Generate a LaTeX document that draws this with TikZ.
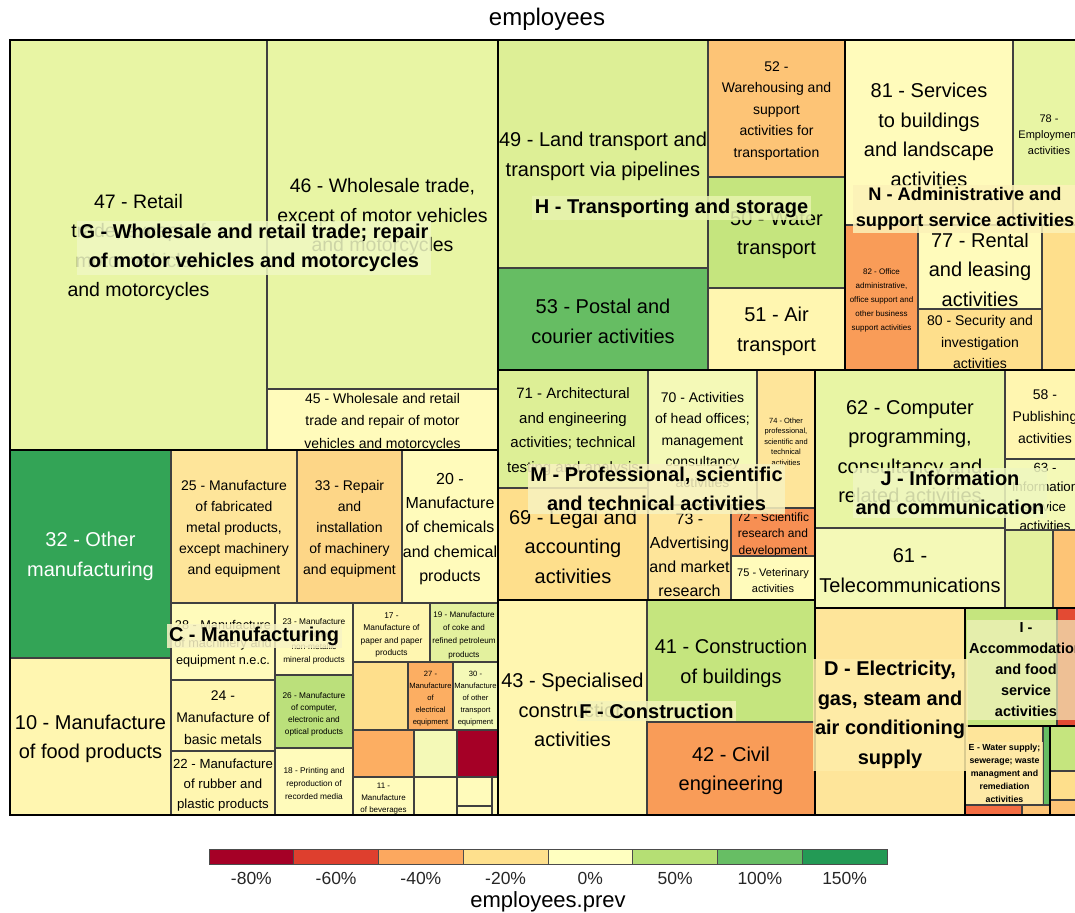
\documentclass[tikz,border=0pt]{standalone}
\usepackage{fontspec}
\setmainfont{Liberation Sans}
\def\borderlist{}
\newcommand\tmleaf[8]{%
  \fill[fill=#6] (#2,#3) rectangle (#4,#5);
  \begin{scope}
    \clip (#2,#3) rectangle (#4,#5);
    \node[lt,#7] (#1) at ({(#2+#4)/2},{(#3+#5)/2}) {#8};
  \end{scope}
  \xdef\borderlist{\borderlist (#2,#3) rectangle (#4,#5)}%
}
% cell colours
\definecolor{gA}{HTML}{E8F5A4}
\definecolor{gA2}{HTML}{E3F19E}
\definecolor{gB}{HTML}{DDEF96}
\definecolor{gC}{HTML}{C5E57E}
\definecolor{gC2}{HTML}{BBE07B}
\definecolor{gD}{HTML}{66BD63}
\definecolor{gE}{HTML}{33A456}
\definecolor{yA}{HTML}{FFFBBB}
\definecolor{yB}{HTML}{FFF6B0}
\definecolor{yG}{HTML}{F4F9B7}
\definecolor{oA}{HTML}{FEE59A}
\definecolor{oB}{HTML}{FEDF8C}
\definecolor{oC}{HTML}{FDD687}
\definecolor{oD}{HTML}{FDC476}
\definecolor{oE}{HTML}{FCAE62}
\definecolor{oF}{HTML}{F99C58}
\definecolor{oF2}{HTML}{F78F53}
\definecolor{rA}{HTML}{E34A33}
\definecolor{rA2}{HTML}{F46D43}
\definecolor{rB}{HTML}{A50026}
% group label backgrounds
\definecolor{bgG}{HTML}{EFF8C2}
\definecolor{bgH}{HTML}{E7F3AE}
\definecolor{bgN}{HTML}{FCF2B8}
\definecolor{bgM}{HTML}{F8F2C0}
\definecolor{bgJ}{HTML}{EFF7C0}
\definecolor{bgF}{HTML}{F4F3BA}
\definecolor{bgC}{HTML}{F8F3C4}
\definecolor{bgD}{HTML}{FEEDA8}
\definecolor{bgI}{HTML}{F3F3C0}
\definecolor{bgE}{HTML}{FEEAA8}
% legend colours
\definecolor{lg1}{HTML}{A50026}
\definecolor{lg2}{HTML}{DE3F2E}
\definecolor{lg3}{HTML}{FCA85F}
\definecolor{lg4}{HTML}{FEE08D}
\definecolor{lg5}{HTML}{FFFFC0}
\definecolor{lg6}{HTML}{B5DF74}
\definecolor{lg7}{HTML}{67BE64}
\definecolor{lg8}{HTML}{239A55}
\tikzset{
  lt/.style={align=center, inner sep=0pt, text=black, yshift=-2.5pt},
  fs/.style 2 args={font=\fontsize{#1}{#2}\selectfont},
  leafb/.style={draw=black!75, line width=1.1pt},
  grpb/.style={draw=black, line width=2.8pt, line join=miter},
  glab/.style={align=center, inner xsep=2.5pt, inner ysep=2.5pt, yshift=-2pt, font=\fontsize{20}{29.5}\selectfont\bfseries, fill opacity=0.86, text opacity=1},
  legbox/.style={draw=black!70, line width=0.8pt, minimum width=84.75pt, minimum height=15pt, inner sep=0pt},
  legtxt/.style={font=\fontsize{17.5}{20}\selectfont, text=black!85},
}
\begin{document}
\begin{tikzpicture}[x=1pt,y=-1pt]
\useasboundingbox (0,0) rectangle (1075,912);
\fill[white] (0,0) rectangle (1075,912);
\node[font=\fontsize{24}{28}\selectfont] (title) at (547,19) {employees};

% ---- G
\tmleaf{l47}{10}{40}{267}{450}{gA}{fs={19.5}{29.3}}{47 - Retail\\trade, except of\\motor vehicles\\and motorcycles}
\tmleaf{l46}{267}{40}{498}{389}{gA}{fs={19.5}{29.3}}{46 - Wholesale trade,\\except of motor vehicles\\and motorcycles}
\tmleaf{l45}{267}{389}{498}{450}{yA}{fs={14}{22.5}}{45 - Wholesale and retail\\trade and repair of motor\\vehicles and motorcycles}
% ---- H
\tmleaf{l49}{498}{40}{708}{268}{gB}{fs={20}{29.5}}{49 - Land transport and\\transport via pipelines}
\tmleaf{l52}{708}{40}{845}{177}{oD}{fs={14}{21.5}}{52 -\\Warehousing and\\support\\activities for\\transportation}
\tmleaf{l50}{708}{177}{845}{288}{gC}{fs={20}{29.5}}{50 - Water\\transport}
\tmleaf{l51}{708}{288}{845}{370}{yB}{fs={20}{29.5}}{51 - Air\\transport}
\tmleaf{l53}{498}{268}{708}{370}{gD}{fs={20}{29.5}}{53 - Postal and\\courier activities}
% ---- N
\tmleaf{l81}{845}{40}{1013}{225}{yA}{fs={20}{29.5}}{81 - Services\\to buildings\\and landscape\\activities}
\tmleaf{l78}{1013}{40}{1085}{225}{gA}{fs={11}{16}}{78 -\\Employment\\activities}
\tmleaf{l82}{845}{225}{918}{370}{oF}{fs={8}{14}}{82 - Office\\administrative,\\office support and\\other business\\support activities}
\tmleaf{l77}{918}{225}{1042}{309}{yA}{fs={20}{29.5}}{77 - Rental\\and leasing\\activities}
\tmleaf{l80}{918}{309}{1042}{370}{oB}{fs={14}{21.5}}{80 - Security and\\investigation\\activities}
\tmleaf{lN1}{1042}{225}{1085}{370}{oB}{}{}
% ---- M
\tmleaf{l71}{498}{370}{648}{488}{gB}{fs={15}{24.5}}{71 - Architectural\\and engineering\\activities; technical\\testing and analysis}
\tmleaf{l70}{648}{370}{757}{505}{yG}{fs={14}{21.2}}{70 - Activities\\of head offices;\\management\\consultancy\\activities}
\tmleaf{l74}{757}{370}{815}{508}{oA}{fs={7.5}{10.5}}{74 - Other\\professional,\\scientific and\\technical\\activities}
\tmleaf{l69}{498}{488}{648}{600}{oB}{fs={20}{29.5}}{69 - Legal and\\accounting\\activities}
\tmleaf{l73}{648}{505}{731}{600}{oA}{fs={16}{24.3}}{73 -\\Advertising\\and market\\research}
\tmleaf{l72}{731}{508}{815}{556}{oF2}{fs={12}{16.5}}{72 - Scientific\\research and\\development}
\tmleaf{l75}{731}{556}{815}{600}{yA}{fs={11}{16}}{75 - Veterinary\\activities}
% ---- J
\tmleaf{l62}{815}{370}{1005}{528}{gA}{fs={20}{29.5}}{62 - Computer\\programming,\\consultancy and\\related activities}
\tmleaf{l61}{815}{528}{1005}{608}{yG}{fs={20}{29.5}}{61 -\\Telecommunications}
\tmleaf{l58}{1005}{370}{1085}{459}{yB}{fs={14}{22}}{58 -\\Publishing\\activities}
\tmleaf{l63}{1005}{459}{1085}{530}{yG}{fs={13.3}{19.3}}{63 -\\Information\\service\\activities}
\tmleaf{lJ1}{1005}{530}{1053}{608}{gA2}{}{}
\tmleaf{lJ2}{1053}{530}{1085}{608}{oD}{}{}
% ---- F
\tmleaf{l43}{498}{600}{647}{815}{yB}{fs={20}{29.5}}{43 - Specialised\\construction\\activities}
\tmleaf{l41}{647}{600}{815}{722}{gC}{fs={20}{29.5}}{41 - Construction\\of buildings}
\tmleaf{l42}{647}{722}{815}{815}{oF}{fs={20}{29.5}}{42 - Civil\\engineering}
% ---- D
\tmleaf{l35}{815}{608}{965}{815}{oA}{}{}
% ---- I
\tmleaf{lI1}{965}{608}{1057}{726}{gC}{}{}
\tmleaf{lI2}{1057}{608}{1085}{726}{rA}{}{}
% ---- E
\tmleaf{lE1}{965}{726}{1043}{805}{oA}{}{}
\tmleaf{lE2}{1043}{726}{1050}{805}{gD}{}{}
\tmleaf{lE3}{965}{805}{1022}{815}{rA2}{}{}
\tmleaf{lE4}{1022}{805}{1050}{815}{oD}{}{}
% ---- right small group
\tmleaf{lR1}{1050}{726}{1085}{771}{gC}{}{}
\tmleaf{lR2}{1050}{771}{1085}{800}{oB}{}{}
\tmleaf{lR3}{1050}{800}{1085}{815}{oD}{}{}
% ---- C
\tmleaf{l32}{10}{450}{171}{658}{gE}{fs={20}{30},text=white}{32 - Other\\manufacturing}
\tmleaf{l10}{10}{658}{171}{815}{yB}{fs={20}{29.3}}{10 - Manufacture\\of food products}
\tmleaf{l25}{171}{450}{297}{603}{oA}{fs={14}{21}}{25 - Manufacture\\of fabricated\\metal products,\\except machinery\\and equipment}
\tmleaf{l33}{297}{450}{402}{603}{oC}{fs={14}{21}}{33 - Repair\\and\\installation\\of machinery\\and equipment}
\tmleaf{l20}{402}{450}{498}{603}{yA}{fs={16}{24.2}}{20 -\\Manufacture\\of chemicals\\and chemical\\products}
\tmleaf{l28}{171}{603}{275}{680}{yA}{fs={12.7}{17.5}}{28 - Manufacture\\of machinery and\\equipment n.e.c.}
\tmleaf{l23}{275}{603}{353}{675}{yA}{fs={8.3}{12.7}}{23 - Manufacture\\of other\\non-metallic\\mineral products}
\tmleaf{l24}{171}{680}{275}{751}{yB}{fs={14}{22}}{24 -\\Manufacture of\\basic metals}
\tmleaf{l22}{171}{751}{275}{815}{yB}{fs={13.2}{20}}{22 - Manufacture\\of rubber and\\plastic products}
\tmleaf{l26}{275}{675}{353}{748}{gC2}{fs={8.3}{12}}{26 - Manufacture\\of computer,\\electronic and\\optical products}
\tmleaf{l18}{275}{748}{353}{815}{yA}{fs={8.3}{13}}{18 - Printing and\\reproduction of\\recorded media}
\tmleaf{l17}{353}{603}{430}{662}{yB}{fs={8.4}{12.5}}{17 -\\Manufacture of\\paper and paper\\products}
\tmleaf{l19}{430}{603}{498}{662}{gA2}{fs={8.1}{13.3}}{19 - Manufacture\\of coke and\\refined petroleum\\products}
\tmleaf{lCa}{353}{662}{408}{730}{oB}{}{}
\tmleaf{l27}{408}{662}{453}{730}{oE}{fs={7.6}{12}}{27 -\\Manufacture\\of\\electrical\\equipment}
\tmleaf{l30}{453}{662}{498}{730}{yG}{fs={7.6}{12}}{30 -\\Manufacture\\of other\\transport\\equipment}
\tmleaf{lCb}{353}{730}{414}{777}{oE}{}{}
\tmleaf{lCc}{414}{730}{457}{777}{yG}{}{}
\tmleaf{lCd}{457}{730}{498}{777}{rB}{}{}
\tmleaf{l11}{353}{777}{414}{815}{yA}{fs={8}{12}}{11 -\\Manufacture\\of beverages}
\tmleaf{lCe}{414}{777}{457}{815}{yA}{}{}
\tmleaf{lCf}{457}{777}{492}{806}{yA}{}{}
\tmleaf{lCg}{457}{806}{492}{815}{yA}{}{}
\tmleaf{lCh}{492}{777}{498}{815}{yA}{}{}

% leaf borders
\draw[leafb] \borderlist;

% group borders
\draw[grpb] (10,40) rectangle (498,450)
            (10,450) rectangle (498,815)
            (498,40) rectangle (845,370)
            (845,40) rectangle (1085,370)
            (498,370) rectangle (815,600)
            (498,600) rectangle (815,815)
            (815,370) rectangle (1085,608)
            (815,608) rectangle (965,815)
            (965,608) rectangle (1085,726)
            (965,726) rectangle (1050,815)
            (1050,726) rectangle (1085,815);

% group labels
\node[glab, fill=bgG] (gG) at (254,246) {G - Wholesale and retail trade; repair\\of motor vehicles and motorcycles};
\node[glab, fill=bgH] (gH) at (671.5,206) {H - Transporting and storage};
\node[glab, fill=bgN, font=\fontsize{18.2}{26}\selectfont\bfseries] (gN) at (965,207) {N - Administrative and\\support service activities};
\node[glab, fill=bgM] (gM) at (656.5,487) {M - Professional, scientific\\and technical activities};
\node[glab, fill=bgJ] (gJ) at (950,491) {J - Information\\and communication};
\node[glab, fill=bgF] (gF) at (656.5,709) {F - Construction};
\node[glab, fill=bgC] (gC) at (254,634) {C - Manufacturing};
\node[glab, fill=bgD] (gD) at (890,713) {D - Electricity,\\gas, steam and\\air conditioning\\supply};
\node[glab, fill=bgI, fill opacity=0.7, font=\fontsize{14.5}{21}\selectfont\bfseries] (gI) at (1026,668) {I -\\Accommodation\\and food\\service\\activities};
\node[glab, fill=bgE, inner ysep=1.5pt, font=\fontsize{8.8}{13}\selectfont\bfseries] (gE) at (1004.5,771) {E - Water supply;\\sewerage; waste\\managment and\\remediation\\activities};

% legend
\foreach \c/\t [count=\i from 0] in {lg1/{-80\%},lg2/{-60\%},lg3/{-40\%},lg4/{-20\%},lg5/{0\%},lg6/{50\%},lg7/{100\%},lg8/{150\%}}{
  \node[legbox, fill=\c] (leg\i) at ({209+84.75*(\i+0.5)},856.5) {};
  \node[legtxt] (legt\i) at ({209+84.75*(\i+0.5)},878) {\t};
}
\node[font=\fontsize{22}{26}\selectfont] (legtitle) at (548,902) {employees.prev};
\end{tikzpicture}
\end{document}
